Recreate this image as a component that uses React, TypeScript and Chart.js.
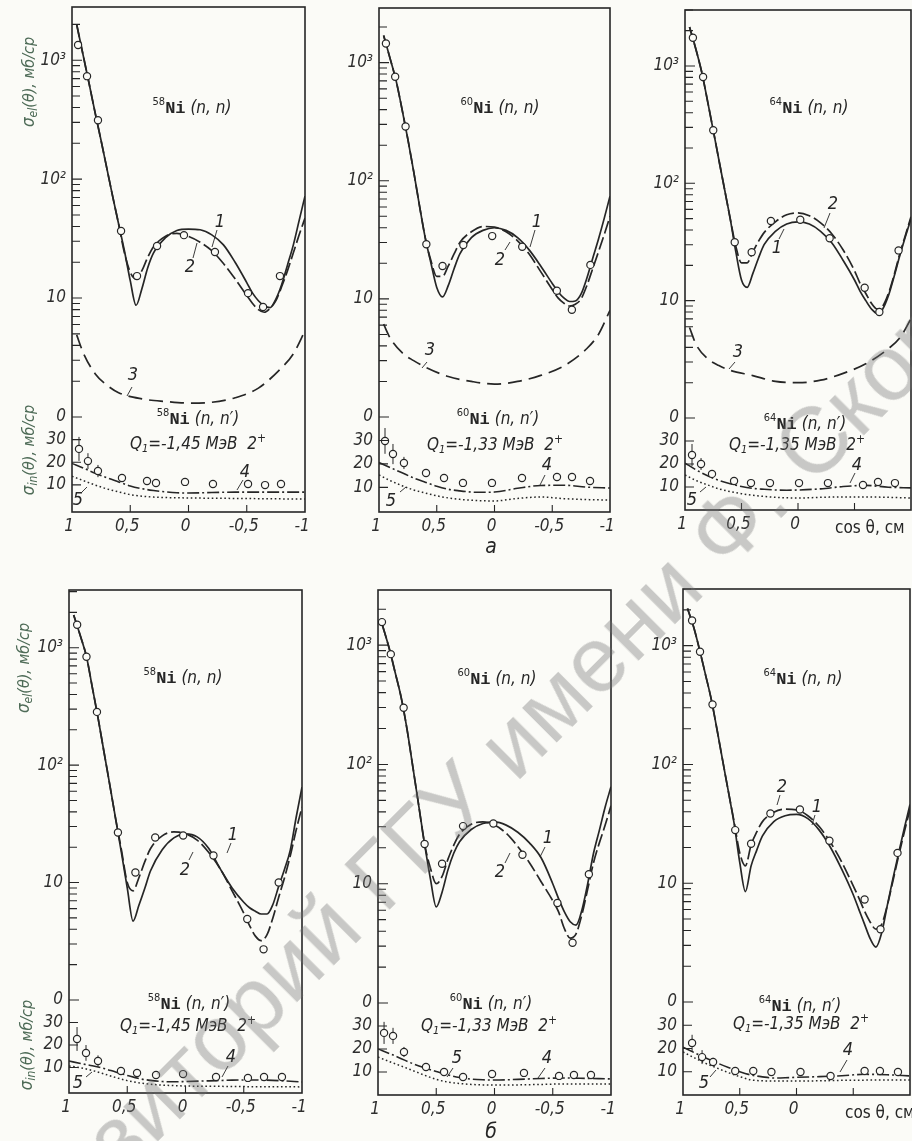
import React, { useEffect, useRef } from 'react';
import { Chart, registerables } from 'chart.js';

Chart.register(...registerables);

const INK = '#262626';
const PAPER = '#fbfbf7';
const TITLE_INK = '#4e6b57';
const NUM_FONT = "'Liberation Sans Narrow', 'DejaVu Sans Condensed', 'DejaVu Sans', sans-serif";
const MONO_FONT = "'Liberation Mono', 'DejaVu Sans Mono', monospace";

// ---------- shared grids & tick labels ----------
const EL_COS = [0.96, 0.9, 0.85, 0.8, 0.75, 0.7, 0.65, 0.6, 0.55, 0.5, 0.45, 0.4, 0.35, 0.3, 0.2, 0.1, 0, -0.1, -0.2, -0.3, -0.4, -0.5, -0.55, -0.6, -0.65, -0.7, -0.75, -0.8, -0.85, -0.9, -0.95, -1];
const EL3_COS = [0.96, 0.9, 0.8, 0.7, 0.6, 0.4, 0.2, 0, -0.2, -0.4, -0.6, -0.8, -0.9, -1];
const IN_COS = [1, 0.9, 0.8, 0.7, 0.6, 0.5, 0.4, 0.3, 0.2, 0.1, 0, -0.2, -0.4, -0.6, -0.8, -1];
const X_TICKS = [1, 0.5, 0, -0.5, -1];
const X_LABELS = ['1', '0,5', '0', '-0,5', '-1'];
const X_LABELS_RIGHT = ['1', '0,5', '0', '', ''];
const LOG_TICKS = [10, 100, 1000];
const LOG_LABELS = ['10', '10²', '10³'];
const LIN_TICKS = [10, 20, 30, 40];
const LIN_LABELS = ['10', '20', '30', '0'];

// ---------- 58Ni, top (а) ----------
const A_EL1 = [2000, 1050, 615, 355, 210, 122, 71, 42, 25, 14, 8.7, 12, 18, 24, 32, 37, 38, 37.5, 34, 28, 20, 13.5, 11, 9.5, 8.6, 8.3, 9.8, 13, 19, 28, 45, 72];
const A_EL2 = [2000, 1050, 615, 355, 210, 122, 71, 42, 24, 16.5, 14.5, 17, 22, 27, 33, 35, 33, 29.5, 25, 19.5, 14.5, 10.5, 9, 8, 7.6, 8.2, 9.5, 12.5, 17, 24, 34, 47];
const A_EL3 = [4.9, 3.4, 2.3, 1.85, 1.6, 1.42, 1.35, 1.31, 1.33, 1.45, 1.75, 2.6, 3.4, 5.3];
const A_EXP_EL_COS = [0.948, 0.871, 0.777, 0.579, 0.442, 0.27, 0.039, -0.227, -0.511, -0.64, -0.785];
const A_EXP_EL = [1340, 734, 313, 36.6, 15.3, 27.4, 33.8, 24.4, 11, 8.4, 15.3];
const A_IN4 = [19.5, 17.4, 15.1, 13.1, 11.3, 9.5, 8.3, 7.5, 6.9, 6.5, 6.4, 6.6, 6.8, 6.8, 6.8, 6.8];
const A_IN5 = [13.8, 11.8, 9.9, 8.2, 6.9, 5.7, 5.0, 4.6, 4.4, 4.3, 4.2, 4.1, 4.0, 3.9, 3.8, 3.7];
const A_EXP_IN_COS = [0.94, 0.863, 0.777, 0.571, 0.356, 0.279, 0.03, -0.21, -0.511, -0.657, -0.794];
const A_EXP_IN = [25.9, 20.5, 16.1, 13.0, 11.7, 10.8, 11.3, 10.4, 10.4, 9.9, 10.4];
const A_EXP_IN_ERR = [5.3, 3.5, 2.7];

// ---------- 60Ni, top (а) ----------
const B_EL1 = [1700, 1050, 690, 400, 224, 120, 62, 33, 20, 12.5, 10.4, 13, 18, 24, 33, 38, 40, 38, 33, 26, 19, 13.5, 11.5, 10.2, 9.5, 9.6, 11, 15, 22, 32, 48, 74];
const B_EL2 = [1700, 1050, 690, 400, 224, 120, 62, 33, 21, 15.5, 15.5, 19, 24, 30, 37, 41, 40.5, 37, 31, 24, 17, 12, 10.2, 9.2, 8.7, 9, 10, 13, 18, 25, 35, 50];
const B_EL3 = [6.1, 4.6, 3.5, 3.0, 2.65, 2.2, 2.0, 1.9, 2.0, 2.25, 2.7, 3.8, 5.0, 8];
const B_EXP_EL_COS = [0.94, 0.86, 0.77, 0.59, 0.45, 0.27, 0.02, -0.24, -0.54, -0.67, -0.83];
const B_EXP_EL = [1450, 760, 288, 29, 19, 28.6, 34, 27.6, 11.7, 8.1, 19.4];
const B_IN4 = [20.6, 18.4, 16.2, 14, 12.2, 10.5, 9.2, 8.5, 8.0, 7.9, 8.0, 9.6, 10.8, 10.9, 10.1, 9.7];
const B_IN5 = [15.3, 12.8, 10.7, 8.9, 7.6, 6.4, 5.5, 4.9, 4.5, 4.3, 4.2, 5.3, 5.9, 5.2, 4.8, 4.6];
const B_EXP_IN_COS = [0.948, 0.879, 0.784, 0.593, 0.437, 0.273, 0.022, -0.238, -0.541, -0.671, -0.827];
const B_EXP_IN = [29.8, 24.2, 20.4, 16.1, 14.0, 11.9, 11.9, 14.0, 14.4, 14.4, 12.7];
const B_EXP_IN_ERR = [5.5, 4.3, 2.6];

// ---------- 64Ni, top (а) ----------
const C_EL1 = [2150, 1350, 870, 500, 283, 158, 89, 50, 26, 15, 13, 17, 23, 30, 39, 45, 47, 45, 39, 31, 22, 15, 12, 10, 8.5, 7.8, 8.5, 11, 16, 24, 35, 50];
const C_EL2 = [2150, 1350, 870, 500, 283, 158, 89, 50, 29, 21, 21, 26, 32, 38, 47, 54, 56, 53, 46, 37, 27, 18, 14, 11.5, 9.5, 8.5, 9, 11.5, 16.5, 25, 36, 52];
const C_EL3 = [5.9, 4.2, 3.2, 2.8, 2.55, 2.3, 2.05, 2.0, 2.1, 2.4, 2.9, 3.9, 4.8, 7];
const C_EXP_EL_COS = [0.93, 0.84, 0.75, 0.56, 0.41, 0.24, -0.02, -0.28, -0.59, -0.72, -0.89];
const C_EXP_EL = [1740, 805, 283, 31.5, 25.9, 47.7, 49, 34, 12.9, 8.0, 26.8];
const C_IN4 = [20.4, 17.4, 14.9, 12.9, 11.4, 10.2, 9.4, 9.0, 8.7, 8.6, 8.7, 9.2, 10.2, 10.7, 9.9, 9.6];
const C_IN5 = [15.2, 12.8, 10.9, 9.2, 8.0, 7.1, 6.4, 5.9, 5.5, 5.3, 5.2, 5.5, 5.7, 5.7, 5.5, 5.2];
const C_EXP_IN_COS = [0.938, 0.858, 0.761, 0.566, 0.416, 0.248, -0.009, -0.265, -0.575, -0.708, -0.858];
const C_EXP_IN = [23.9, 20, 15.7, 12.6, 11.7, 11.7, 11.7, 11.7, 10.9, 12.2, 11.7];
const C_EXP_IN_ERR = [4.8, 2.6, 1.7];

// ---------- 58Ni, bottom (б) ----------
const D_EL1 = [1900, 1240, 840, 460, 250, 130, 68, 35, 18, 9, 4.7, 6.4, 8.9, 12.6, 19, 24, 26, 24.5, 19.5, 13, 9, 6.8, 6.1, 5.7, 5.4, 5.4, 6.5, 9.3, 13, 19, 36, 65];
const D_EL2 = [1900, 1240, 840, 460, 250, 130, 68, 35, 19, 10, 8.5, 11, 15, 19.5, 25, 27, 26, 23, 18, 13, 8.5, 5.5, 4.3, 3.5, 3.2, 3.6, 5, 7.5, 11, 17, 28, 44];
const D_EXP_EL_COS = [0.93, 0.85, 0.76, 0.58, 0.43, 0.26, 0.02, -0.24, -0.53, -0.67, -0.8];
const D_EXP_EL = [1570, 838, 284, 26.7, 12.2, 24.2, 25.2, 17, 4.9, 2.7, 10];
const D_IN4 = [12.9, 11.8, 10.8, 9.6, 8.0, 6.5, 5.1, 4.3, 3.8, 3.7, 3.8, 4.1, 4.4, 4.5, 4.2, 3.6];
const D_IN5 = [10.7, 9.9, 8.7, 7.2, 5.6, 4.2, 3.2, 2.6, 2.2, 2.0, 1.8, 1.7, 1.6, 1.5, 1.5, 1.4];
const D_EXP_IN_COS = [0.931, 0.854, 0.751, 0.554, 0.416, 0.253, 0.021, -0.262, -0.536, -0.674, -0.828];
const D_EXP_IN = [22.7, 16.5, 12.9, 8.5, 7.6, 6.7, 7.1, 5.8, 5.4, 5.8, 5.8];
const D_EXP_IN_ERR = [5.3, 3.5, 2.5];

// ---------- 60Ni, bottom (б) ----------
const E_EL1 = [1450, 910, 575, 360, 195, 94, 45, 21.5, 11, 6.4, 8.5, 13, 18, 22.5, 28.5, 32, 33, 31, 27, 22, 16.5, 10, 7.5, 5.8, 4.8, 4.5, 6, 10, 18, 28, 44, 65];
const E_EL2 = [1450, 910, 575, 360, 195, 94, 45, 21.5, 13.5, 10, 11.5, 16, 21, 26, 31.5, 33, 31, 26.5, 20.5, 15, 10.4, 7.2, 5.8, 4.2, 3.5, 3.8, 5.5, 9, 15, 22, 31, 45];
const E_EXP_EL_COS = [0.966, 0.89, 0.78, 0.6, 0.45, 0.27, 0.01, -0.24, -0.54, -0.67, -0.81];
const E_EXP_EL = [1560, 841, 299, 21.5, 14.7, 30.4, 32, 17.5, 6.9, 3.2, 12];
const E_IN4 = [20, 18, 15.8, 13.6, 11.8, 10.2, 8.7, 7.6, 6.9, 6.6, 6.5, 6.8, 7.2, 7.4, 7.2, 7.0];
const E_IN5 = [16.5, 14.5, 12.6, 10.6, 8.6, 6.8, 5.6, 5.0, 4.6, 4.4, 4.3, 4.4, 4.6, 4.8, 4.8, 4.8];
const E_EXP_IN_COS = [0.948, 0.871, 0.777, 0.588, 0.433, 0.27, 0.021, -0.253, -0.554, -0.682, -0.828];
const E_EXP_IN = [27, 25.7, 18.7, 12.2, 10, 7.8, 9.1, 9.6, 8.3, 8.7, 8.7];
const E_EXP_IN_ERR = [4.8, 3.5, 2.2];

// ---------- 64Ni, bottom (б) ----------
const F_EL1 = [2060, 1370, 890, 560, 350, 196, 107, 59, 32, 15, 8.5, 14, 19, 25, 33, 37, 38, 35, 28, 20, 13, 8, 6, 4.5, 3.4, 2.9, 3.8, 6.5, 11, 18, 29, 46];
const F_EL2 = [2060, 1370, 890, 560, 350, 196, 107, 59, 33, 18, 14, 21, 27, 33, 39.5, 42, 41.5, 37, 30, 22, 15, 9.5, 7.5, 5.8, 4.7, 4.1, 4.5, 6.5, 10.5, 17, 27, 42];
const F_EXP_EL_COS = [0.92, 0.85, 0.74, 0.54, 0.4, 0.23, -0.03, -0.29, -0.6, -0.74, -0.89];
const F_EXP_EL = [1630, 890, 320, 28, 21.5, 38.6, 41.7, 22.8, 7.3, 4.1, 18];
const F_IN4 = [20.6, 18.2, 15.9, 13.8, 11.8, 10.0, 8.6, 7.8, 7.3, 7.4, 7.6, 7.9, 8.3, 8.9, 8.7, 8.2];
const F_IN5 = [18.5, 16, 13.6, 11.6, 9.6, 7.9, 6.5, 6.1, 6.0, 6.0, 6.0, 6.1, 6.3, 6.4, 6.5, 6.5];
const F_EXP_IN_COS = [0.92, 0.832, 0.735, 0.54, 0.381, 0.221, -0.035, -0.3, -0.6, -0.735, -0.894];
const F_EXP_IN = [22.4, 16.3, 14.2, 10.3, 10.3, 9.9, 9.9, 8.2, 10.3, 10.3, 9.9];
const F_EXP_IN_ERR = [3.5, 3, 1.8];

// ---------- layout constants ----------
const AXIS_W = 60;
const PAD_T = 8;
const PAD_R = 10;
const X_AXIS_H = 50;

const PANELS: any[] = [
  {
    key: 'A', L: 72, R: 305, T: 7, B: 512, split: 417, logMin: 1, logMax: 2800, linMin: -2, linMax: 40,
    el1: A_EL1, el2: A_EL2, el3: A_EL3, expElCos: A_EXP_EL_COS, expEl: A_EXP_EL,
    in4: A_IN4, in5: A_IN5, expInCos: A_EXP_IN_COS, expIn: A_EXP_IN, expInErr: A_EXP_IN_ERR,
    mass: '58', q: '-1,45', elTag: [120, 100], inTag: [126, 411], qTag: [126, 436],
    nums: [['1', 148, 215], ['2', 118, 260], ['3', 61, 368], ['4', 173, 465], ['5', 6, 493]],
    leaders: [[145, 223, 140, 240], [121, 251, 125, 236], [60, 380, 55, 389], [171, 473, 165, 483], [10, 485, 15, 480]],
    yTitles: { el: [-44, 75], inl: [-44, 443] },
  },
  {
    key: 'B', L: 379, R: 610, T: 8, B: 512, split: 417, logMin: 1, logMax: 2900, linMin: -0.5, linMax: 40,
    el1: B_EL1, el2: B_EL2, el3: B_EL3, expElCos: B_EXP_EL_COS, expEl: B_EXP_EL,
    in4: B_IN4, in5: B_IN5, expInCos: B_EXP_IN_COS, expIn: B_EXP_IN, expInErr: B_EXP_IN_ERR,
    mass: '60', q: '-1,33', elTag: [121, 99], inTag: [119, 410], qTag: [116, 436],
    nums: [['1', 158, 214], ['2', 121, 252], ['3', 51, 342], ['4', 168, 457], ['5', 12, 493]],
    leaders: [[156, 222, 151, 239], [126, 242, 131, 234], [48, 354, 43, 360], [166, 467, 161, 477], [21, 484, 27, 479]],
    sub: ['а', 112, 540],
  },
  {
    key: 'C', L: 685, R: 911, T: 10, B: 510, split: 418, logMin: 1, logMax: 3000, linMin: 0, linMax: 40,
    el1: C_EL1, el2: C_EL2, el3: C_EL3, expElCos: C_EXP_EL_COS, expEl: C_EXP_EL,
    in4: C_IN4, in5: C_IN5, expInCos: C_EXP_IN_COS, expIn: C_EXP_IN, expInErr: C_EXP_IN_ERR,
    mass: '64', q: '-1,35', elTag: [124, 97], inTag: [120, 413], qTag: [112, 434],
    nums: [['2', 148, 194], ['1', 92, 238], ['3', 53, 342], ['4', 172, 455], ['5', 7, 490]],
    leaders: [[145, 203, 139, 218], [94, 229, 99, 219], [50, 352, 44, 359], [170, 463, 165, 473], [15, 482, 21, 477]],
    rightCol: true, cosTag: [150, 517],
  },
  {
    key: 'D', L: 69, R: 302, T: 590, B: 1093, split: 1000, logMin: 1, logMax: 3100, linMin: -1.3, linMax: 40,
    el1: D_EL1, el2: D_EL2, expElCos: D_EXP_EL_COS, expEl: D_EXP_EL,
    in4: D_IN4, in5: D_IN5, expInCos: D_EXP_IN_COS, expIn: D_EXP_IN, expInErr: D_EXP_IN_ERR,
    mass: '58', q: '-1,45', elTag: [114, 87], inTag: [120, 413], qTag: [119, 435],
    nums: [['1', 164, 245], ['2', 116, 280], ['4', 162, 467], ['5', 9, 493]],
    leaders: [[162, 253, 158, 263], [120, 270, 124, 262], [159, 476, 153, 487], [17, 487, 23, 482]],
    yTitles: { el: [-46, 78], inl: [-43, 455] },
  },
  {
    key: 'E', L: 378, R: 611, T: 590, B: 1095, split: 1003, logMin: 1, logMax: 2900, linMin: 0, linMax: 40,
    el1: E_EL1, el2: E_EL2, expElCos: E_EXP_EL_COS, expEl: E_EXP_EL,
    in4: E_IN4, in5: E_IN5, expInCos: E_EXP_IN_COS, expIn: E_EXP_IN, expInErr: E_EXP_IN_ERR,
    mass: '60', q: '-1,33', elTag: [119, 88], inTag: [113, 413], qTag: [111, 435],
    nums: [['1', 170, 248], ['2', 122, 282], ['5', 79, 468], ['4', 169, 468]],
    leaders: [[167, 257, 162, 267], [127, 273, 132, 263], [75, 478, 69, 487], [167, 478, 160, 488]],
    sub: ['б', 113, 543],
  },
  {
    key: 'F', L: 683, R: 910, T: 589, B: 1095, split: 1002, logMin: 1, logMax: 3000, linMin: 0, linMax: 40,
    el1: F_EL1, el2: F_EL2, expElCos: F_EXP_EL_COS, expEl: F_EXP_EL,
    in4: F_IN4, in5: F_IN5, expInCos: F_EXP_IN_COS, expIn: F_EXP_IN, expInErr: F_EXP_IN_ERR,
    mass: '64', q: '-1,35', elTag: [120, 89], inTag: [117, 416], qTag: [118, 434],
    nums: [['2', 99, 198], ['1', 134, 218], ['4', 165, 461], ['5', 21, 494]],
    leaders: [[97, 206, 94, 216], [132, 226, 129, 236], [164, 471, 157, 483], [27, 488, 33, 481]],
    rightCol: true, cosTag: [162, 523],
  },
];

function drawRich(ctx: CanvasRenderingContext2D, parts: any[], x: number, y: number, align: string) {
  const widths = parts.map((p) => { ctx.font = p.font; return ctx.measureText(p.t).width; });
  const total = widths.reduce((a, b) => a + b, 0);
  let cx = align === 'left' ? x : x - total / 2;
  ctx.textBaseline = 'alphabetic';
  ctx.textAlign = 'left';
  parts.forEach((p, i) => {
    ctx.font = p.font;
    ctx.fillText(p.t, cx, y + 6 + (p.dy || 0));
    cx += widths[i];
  });
}

function makeDecor(p: any) {
  return {
    id: 'decor' + p.key,
    beforeDatasetsDraw(chart: any) {
      const { ctx, scales } = chart;
      const xs = scales.x;
      const yIn = scales.yIn;
      ctx.save();
      ctx.strokeStyle = INK;
      ctx.lineWidth = 1;
      p.expInErr.forEach((e: number, i: number) => {
        const px = xs.getPixelForValue(p.expInCos[i]);
        ctx.beginPath();
        ctx.moveTo(px, yIn.getPixelForValue(p.expIn[i] + e));
        ctx.lineTo(px, yIn.getPixelForValue(p.expIn[i] - e));
        ctx.stroke();
      });
      ctx.restore();
    },
    afterDraw(chart: any) {
      const { ctx, chartArea: a, scales } = chart;
      const xs = scales.x;
      const yEl = scales.yEl;
      const yIn = scales.yIn;
      ctx.save();
      // frame
      ctx.strokeStyle = INK;
      ctx.lineWidth = 1.6;
      ctx.strokeRect(a.left, a.top, a.right - a.left, a.bottom - a.top);
      // inward tick marks
      ctx.lineWidth = 1.1;
      ctx.beginPath();
      for (let k = 0; k <= 3; k++) {
        for (let m = 1; m <= 9; m++) {
          const v = m * Math.pow(10, k);
          if (v < p.logMin || v > p.logMax) continue;
          const y = yEl.getPixelForValue(v);
          ctx.moveTo(a.left, y);
          ctx.lineTo(a.left + (m === 1 ? 10 : 8), y);
        }
      }
      LIN_TICKS.forEach((v) => {
        const y = yIn.getPixelForValue(v);
        ctx.moveTo(a.left, y);
        ctx.lineTo(a.left + 9, y);
      });
      [0.5, 0, -0.5].forEach((v) => {
        const x = xs.getPixelForValue(v);
        ctx.moveTo(x, a.bottom);
        ctx.lineTo(x, a.bottom - 7);
      });
      ctx.stroke();
      // leaders
      ctx.lineWidth = 0.9;
      ctx.beginPath();
      p.leaders.forEach((s: number[]) => {
        ctx.moveTo(a.left + s[0], a.top + s[1]);
        ctx.lineTo(a.left + s[2], a.top + s[3]);
      });
      ctx.stroke();
      // curve numbers
      ctx.fillStyle = INK;
      ctx.textAlign = 'center';
      ctx.textBaseline = 'middle';
      ctx.font = `italic 18px ${NUM_FONT}`;
      p.nums.forEach((n: any[]) => ctx.fillText(n[0], a.left + n[1], a.top + n[2]));
      // reaction labels
      const iso = (tail: string) => [
        { t: p.mass, font: `11px ${NUM_FONT}`, dy: -8 },
        { t: 'Ni', font: `bold 17px ${MONO_FONT}` },
        { t: tail, font: `italic 17px ${NUM_FONT}` },
      ];
      drawRich(ctx, iso(' (n, n)'), a.left + p.elTag[0], a.top + p.elTag[1], 'center');
      drawRich(ctx, iso(' (n, n′)'), a.left + p.inTag[0], a.top + p.inTag[1], 'center');
      drawRich(ctx, [
        { t: 'Q', font: `italic 17px ${NUM_FONT}` },
        { t: '1', font: `italic 11px ${NUM_FONT}`, dy: 3 },
        { t: '=' + p.q + ' МэВ  2', font: `italic 17px ${NUM_FONT}` },
        { t: '+', font: `italic 12px ${NUM_FONT}`, dy: -7 },
      ], a.left + p.qTag[0], a.top + p.qTag[1], 'center');
      if (p.sub) {
        ctx.font = `italic 21px ${NUM_FONT}`;
        ctx.textAlign = 'center';
        ctx.textBaseline = 'middle';
        ctx.fillText(p.sub[0], a.left + p.sub[1], a.top + p.sub[2]);
      }
      if (p.cosTag) {
        drawRich(ctx, [{ t: 'cos θ, см', font: `17px ${NUM_FONT}` }], a.left + p.cosTag[0], a.top + p.cosTag[1], 'left');
      }
      if (p.yTitles) {
        ctx.fillStyle = TITLE_INK;
        const title = (sub: string, pos: number[]) => {
          ctx.save();
          ctx.translate(a.left + pos[0], a.top + pos[1]);
          ctx.rotate(-Math.PI / 2);
          drawRich(ctx, [
            { t: 'σ', font: `italic 17px ${NUM_FONT}` },
            { t: sub, font: `italic 12px ${NUM_FONT}`, dy: 3 },
            { t: '(θ), мб/ср', font: `italic 16px ${NUM_FONT}` },
          ], 0, 0, 'center');
          ctx.restore();
        };
        title('el', p.yTitles.el);
        title('in', p.yTitles.inl);
      }
      ctx.restore();
    },
  };
}

function buildConfig(p: any) {
  const pts = (xs: number[], ys: number[]) => xs.map((x, i) => ({ x, y: ys[i] }));
  const line = (data: any[], yAxisID: string, dash: number[], width = 1.7) => ({
    data, yAxisID, xAxisID: 'x', borderColor: INK, borderWidth: width, borderDash: dash,
    pointRadius: 0, cubicInterpolationMode: 'monotone', fill: false, borderCapStyle: 'butt',
  });
  const dots = (data: any[], yAxisID: string) => ({
    data, yAxisID, xAxisID: 'x', showLine: false, pointRadius: 3.6, pointBorderWidth: 1.2,
    pointBackgroundColor: PAPER, pointBorderColor: INK, borderColor: INK,
  });
  const datasets: any[] = [
    dots(pts(p.expElCos, p.expEl), 'yEl'),
    dots(pts(p.expInCos, p.expIn), 'yIn'),
    line(pts(EL_COS, p.el1), 'yEl', []),
    line(pts(EL_COS, p.el2), 'yEl', [13, 4]),
  ];
  if (p.el3) datasets.push(line(pts(EL3_COS, p.el3), 'yEl', [14, 7]));
  datasets.push(line(pts(IN_COS, p.in4), 'yIn', [12, 3, 2, 3], 1.6));
  datasets.push(line(pts(IN_COS, p.in5), 'yIn', [1.6, 2.6], 1.5));

  const tickFont = { family: NUM_FONT, size: 17, style: 'italic' as const };
  const xLabels = p.rightCol ? X_LABELS_RIGHT : X_LABELS;
  const yFit = (s: any) => { s.width = AXIS_W; s.paddingTop = 0; s.paddingBottom = 0; };

  return {
    type: 'line' as const,
    data: { datasets },
    options: {
      animation: false as const,
      responsive: false,
      devicePixelRatio: 1,
      events: [],
      layout: { padding: { top: PAD_T, right: PAD_R, left: 0, bottom: 0 } },
      plugins: { legend: { display: false }, tooltip: { enabled: false } },
      scales: {
        x: {
          type: 'linear', min: -1, max: 1, reverse: true,
          grid: { display: false, drawTicks: false }, border: { display: false },
          afterBuildTicks: (s: any) => { s.ticks = X_TICKS.map((v) => ({ value: v })); },
          afterFit: (s: any) => { s.height = X_AXIS_H; s.paddingLeft = 0; s.paddingRight = 0; },
          ticks: {
            autoSkip: false, maxRotation: 0, minRotation: 0, padding: 4, labelOffset: -3, color: '#2e2e2e', font: tickFont,
            callback: (v: number) => { const i = X_TICKS.indexOf(v); return i >= 0 ? xLabels[i] : ''; },
          },
        },
        yIn: {
          type: 'linear', position: 'left', stack: 'panel', stackWeight: p.B - p.split,
          min: p.linMin, max: p.linMax,
          grid: { display: false, drawTicks: false }, border: { display: false },
          afterBuildTicks: (s: any) => { s.ticks = LIN_TICKS.map((v) => ({ value: v })); },
          afterFit: yFit,
          ticks: {
            autoSkip: false, padding: 6, color: '#2e2e2e', font: tickFont,
            callback: (v: number) => { const i = LIN_TICKS.indexOf(v); return i >= 0 ? LIN_LABELS[i] : ''; },
          },
        },
        yEl: {
          type: 'logarithmic', position: 'left', stack: 'panel', stackWeight: p.split - p.T,
          min: p.logMin, max: p.logMax,
          grid: { display: false, drawTicks: false }, border: { display: false },
          afterBuildTicks: (s: any) => { s.ticks = LOG_TICKS.map((v) => ({ value: v })); },
          afterFit: yFit,
          ticks: {
            autoSkip: false, padding: 6, color: '#2e2e2e', font: tickFont,
            callback: (v: number) => { const i = LOG_TICKS.indexOf(v); return i >= 0 ? LOG_LABELS[i] : ''; },
          },
        },
      },
    },
    plugins: [makeDecor(p)],
  };
}

function Panel({ p }: { p: any }) {
  const ref = useRef<HTMLCanvasElement>(null);
  const W = p.R - p.L + AXIS_W + PAD_R;
  const H = p.B - p.T + PAD_T + X_AXIS_H;
  useEffect(() => {
    const chart = new Chart(ref.current as HTMLCanvasElement, buildConfig(p) as any);
    return () => chart.destroy();
  }, [p]);
  return (
    <canvas
      ref={ref}
      width={W}
      height={H}
      style={{ position: 'absolute', left: p.L - AXIS_W, top: p.T - PAD_T, width: W, height: H }}
    />
  );
}

export default function App() {
  return (
    <div style={{ position: 'absolute', left: 0, top: 0, width: 912, height: 1141, overflow: 'hidden', background: PAPER }}>
      {PANELS.map((p) => <Panel key={p.key} p={p} />)}
      <div
        style={{
          position: 'absolute', left: -81, top: 1270, whiteSpace: 'nowrap', transformOrigin: '0 0',
          transform: 'rotate(-45deg)', fontFamily: "'Liberation Sans', Arial, sans-serif", fontSize: 93,
          lineHeight: 1, color: 'rgba(110,110,110,0.36)', pointerEvents: 'none',
        }}
      >
        Репозиторий ГГУ имени Ф. Скорины
      </div>
    </div>
  );
}
